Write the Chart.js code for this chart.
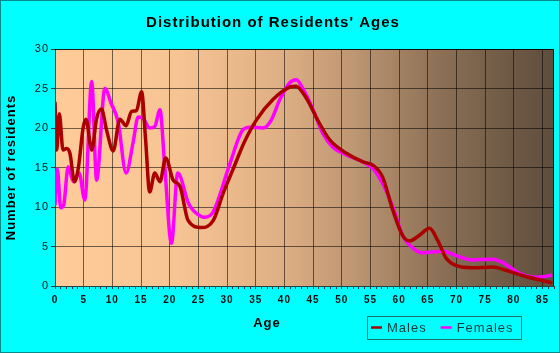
<!DOCTYPE html>
<html><head><meta charset="utf-8">
<script src="https://cdn.jsdelivr.net/npm/chart.js@4/dist/chart.umd.min.js"></script>
<style>html,body{margin:0;padding:0;background:#00ffff;overflow:hidden}</style>
</head><body>
<canvas id="c" width="560" height="353" style="display:block;width:560px;height:353px"></canvas>
<script>
const chartTitle = "Distribution of Residents' Ages";
const xTitle = "Age";
const yTitle = "Number of residents";
const seriesNames = ["Males", "Females"];
const maleAges = [0,0.3,0.75,1.4,2.0,2.6,3.4,4.1,4.9,5.4,6.4,7.25,8.1,9.0,10.15,11.3,12.4,13.35,14.2,15.1,15.8,16.5,17.4,18.3,19.3,20.6,21.8,23.2,25.5,27.6,29.3,31,33,35.1,38,41,42,43.8,46.1,47.9,50.8,53.7,55.4,57.1,58.9,60.6,61.8,63.5,65.3,66.7,68.2,69.9,72.8,76.3,78.6,82.1,86.7];
const maleValues = [23.3,17.2,21.8,17.2,17.4,16.8,13.2,15.1,20.0,21.1,17.2,21.2,22.4,19.7,17.1,21.1,20.3,22.1,22.2,24.6,18.5,11.9,14.3,13.2,16.2,13.4,12.6,8.3,7.4,8.3,11.7,14.7,18.2,21.0,23.6,25.2,25.3,23.8,20.6,18.5,16.8,15.7,15.3,13.8,9.6,6.4,5.7,6.4,7.3,5.8,3.5,2.6,2.3,2.4,2.0,1.2,0.4];
const femaleAges = [0,0.4,1.0,1.5,2.3,3.2,4.2,5.2,6.4,7.25,8.7,9.8,11,12.4,13.6,14.5,15.4,16.5,17.4,18.3,19.1,20.3,21.4,23.3,24.2,26.1,27.6,30.5,32.8,34,36.3,37.7,39.2,40.9,42.1,43.2,45,46.7,48.4,50.8,53.7,55.4,57.1,58.9,60.6,61.8,64.1,67.6,70.5,72.8,76.3,78,81,83.8,86.7];
const femaleValues = [10.2,14.8,9.9,10.2,15.1,13.2,14.3,10.9,25.9,13.4,25.0,23.1,20.8,14.3,18.1,21.4,21.2,20.0,20.2,22.3,15.5,5.4,14.3,10.4,9.5,8.7,9.4,15.5,19.8,20.1,20.0,21.0,23.6,25.7,26.1,25.0,22.3,19.3,17.6,16.6,15.7,14.9,13.0,10.0,6.4,5.2,4.2,4.4,3.7,3.3,3.4,3.0,1.6,1.1,1.35];
const xMin = 0, xMax = 87, xLabelStep = 5;
const yMin = 0, yMax = 30, yStep = 5;

const FONT = "'Liberation Sans', Arial, sans-serif";
const gridColor = 'rgba(0,0,0,0.55)';
const axisColor = '#244';

const deco = {
  id: 'deco',
  beforeDraw(chart) {
    const ctx = chart.ctx, a = chart.chartArea;
    ctx.save();
    ctx.fillStyle = '#00ffff';
    ctx.fillRect(0, 0, chart.width, chart.height);
    const g = ctx.createLinearGradient(a.left, 0, a.right, 0);
    g.addColorStop(0, '#ffcc99');
    g.addColorStop(0.25, '#f6c393');
    g.addColorStop(0.45, '#dfb085');
    g.addColorStop(0.6, '#bd9672');
    g.addColorStop(0.75, '#917459');
    g.addColorStop(0.9, '#705b46');
    g.addColorStop(1, '#5f4d3c');
    ctx.fillStyle = g;
    ctx.fillRect(a.left, a.top, a.right - a.left, a.bottom - a.top);
    ctx.restore();
    ctx.letterSpacing = '1px';
  },
  beforeDatasetsDraw(chart) {
    const ctx = chart.ctx, a = chart.chartArea;
    ctx.save();
    ctx.strokeStyle = 'rgba(0,0,0,0.7)';
    ctx.lineWidth = 1;
    ctx.beginPath();
    ctx.moveTo(a.left, a.top + 0.5); ctx.lineTo(a.right - 0.5, a.top + 0.5); ctx.lineTo(a.right - 0.5, a.bottom);
    ctx.stroke();
    ctx.restore();
  },
  afterDraw(chart) {
    const ctx = chart.ctx;
    ctx.save();
    ctx.letterSpacing = '1px';
    ctx.fillStyle = '#000';
    ctx.textBaseline = 'middle';
    ctx.textAlign = 'center';
    ctx.font = 'bold 15px ' + FONT;
    ctx.fillText(chartTitle, 273, 23);
    ctx.font = 'bold 13px ' + FONT;
    ctx.fillText(xTitle, 267, 323);
    // legend
    ctx.strokeStyle = '#1f6f6f';
    ctx.lineWidth = 1;
    ctx.strokeRect(367.5, 316.5, 154, 23);
    ctx.font = '13px ' + FONT;
    ctx.textAlign = 'left';
    let x = 371;
    chart.data.datasets.forEach((ds, i) => {
      ctx.strokeStyle = ds.borderColor;
      ctx.lineWidth = 2.5;
      ctx.beginPath(); ctx.moveTo(x, 327.5); ctx.lineTo(x + 11, 327.5); ctx.stroke();
      x += 16;
      ctx.fillStyle = '#123c3c';
      ctx.fillText(ds.label, x, 328.5);
      x += ctx.measureText(ds.label).width + 14;
    });
    ctx.strokeStyle = '#0a8a8a';
    ctx.lineWidth = 1;
    ctx.strokeRect(0.5, 0.5, chart.width - 1, chart.height - 1);
    ctx.restore();
  }
};

const toPts = (xs, ys) => xs.map((v, i) => ({x: v, y: ys[i]}));

new Chart(document.getElementById('c'), {
  type: 'line',
  data: {
    datasets: [
      { label: seriesNames[0], data: toPts(maleAges, maleValues), borderColor: '#aa0000', borderWidth: 3.5, pointRadius: 0, cubicInterpolationMode: 'monotone', fill: false },
      { label: seriesNames[1], data: toPts(femaleAges, femaleValues), borderColor: '#ff00ff', borderWidth: 3.5, pointRadius: 0, cubicInterpolationMode: 'monotone', fill: false }
    ]
  },
  options: {
    responsive: false,
    animation: false,
    devicePixelRatio: 1,
    layout: { padding: { top: 49, right: 6, left: 0, bottom: 0 } },
    plugins: { legend: { display: false }, title: { display: false }, tooltip: { enabled: false } },
    scales: {
      x: {
        type: 'linear', min: xMin, max: xMax,
        ticks: {
          stepSize: 1, autoSkip: false, maxRotation: 0, minRotation: 0, padding: 5,
          color: '#111', font: { family: FONT, size: 10, weight: 'bold' },
          callback: (v) => (v % xLabelStep === 0 ? String(v) : '')
        },
        grid: {
          color: (c) => (c.tick && c.tick.value % xLabelStep === 0 && c.tick.value > xMin ? gridColor : 'rgba(0,0,0,0)'),
          tickColor: axisColor, tickLength: 3, lineWidth: 1
        },
        border: { display: true, color: axisColor },
        afterFit: (s) => { s.height = 67; }
      },
      y: {
        min: yMin, max: yMax,
        ticks: { stepSize: yStep, padding: 2, color: '#111', font: { family: FONT, size: 11 } },
        grid: { color: (c) => (c.tick && c.tick.value > yMin ? gridColor : 'rgba(0,0,0,0)'), tickColor: axisColor, tickLength: 4 },
        border: { display: true, color: axisColor },
        title: { display: true, text: yTitle, color: '#000', font: { family: FONT, size: 13, weight: 'bold' }, padding: { top: 4, bottom: 0 } },
        afterFit: (s) => { s.width = 55; }
      }
    }
  },
  plugins: [deco]
});
</script>
</body></html>
